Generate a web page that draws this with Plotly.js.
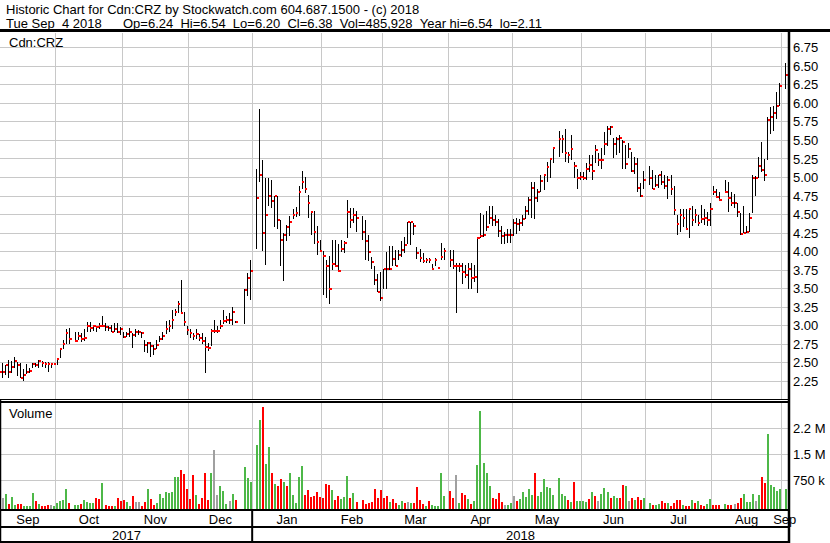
<!DOCTYPE html>
<html>
<head>
<meta charset="utf-8">
<script src="https://cdn.plot.ly/plotly-3.0.1.min.js"></script>
<style>
html,body{margin:0;padding:0;background:#fff;}
#chart{width:830px;height:543px;}
.scatterlayer .js-line{shape-rendering:crispEdges;}
.barlayer path{shape-rendering:crispEdges;}
</style>
</head>
<body>
<div id="chart"></div>
<script>
// ---------------- data ----------------
const FIRST_DAY = '2017-09-05';
const LAST_DAY = '2018-09-04';
const HOLIDAYS = ['2017-10-09','2017-12-25','2017-12-26','2018-01-01','2018-02-19',
                  '2018-03-30','2018-05-21','2018-07-02','2018-08-06','2018-09-03'];
const MONTH_NAMES = ['Jan','Feb','Mar','Apr','May','Jun','Jul','Aug','Sep','Oct','Nov','Dec'];

const high = [
 2.49,
 2.50,2.47,2.54,2.53,2.58,2.51,2.50,2.41,2.49,2.43,2.50,2.50,2.54,2.52,2.51,2.51,2.50,2.50,
 2.56,2.69,2.81,2.96,2.97,2.92,2.92,2.90,2.96,3.05,3.05,3.01,3.00,3.04,3.13,3.04,3.00,3.01,3.04,3.04,2.98,
 2.92,2.92,2.97,2.90,2.95,2.94,2.92,2.81,2.78,2.78,2.74,2.81,2.86,2.91,3.06,3.08,3.21,3.23,3.33,3.62,3.19,2.99,
 2.95,2.90,2.96,2.89,2.90,2.85,2.77,2.96,3.08,2.99,3.08,3.21,3.13,3.17,3.25,3.06,3.49,3.71,3.89,
 5.11,5.93,5.24,5.00,5.00,4.97,4.75,4.75,4.43,4.25,4.36,4.48,4.57,4.60,4.89,5.09,5.01,4.77,4.55,4.55,4.34,4.16,
 4.01,3.89,3.94,4.16,4.16,4.10,4.16,4.15,4.70,4.59,4.59,4.55,4.48,4.43,4.23,3.93,3.80,3.70,3.73,
 3.77,4.00,4.08,4.08,4.02,4.02,4.15,4.20,4.40,4.40,4.39,4.06,4.03,3.98,3.91,3.91,3.83,3.91,3.78,4.12,4.05,
 4.02,4.02,3.84,3.84,3.85,3.82,3.84,3.84,3.82,4.20,4.52,4.49,4.55,4.61,4.61,4.50,4.44,4.35,4.26,4.30,4.30,
 4.44,4.46,4.44,4.50,4.62,4.74,4.94,4.94,4.85,5.03,5.05,5.21,5.25,5.40,5.63,5.57,5.65,5.35,5.57,5.21,5.12,5.08,
 5.08,5.19,5.30,5.30,5.44,5.33,5.40,5.61,5.69,5.69,5.53,5.55,5.58,5.51,5.44,5.46,5.35,5.28,5.26,4.93,5.09,
 5.16,5.10,5.04,5.04,5.09,5.04,5.02,5.03,4.88,4.50,4.57,4.57,4.57,4.58,4.61,4.57,4.49,4.63,4.57,4.54,4.66,
 4.89,4.84,4.81,4.96,4.94,4.81,4.78,4.66,4.52,4.61,4.34,4.52,5.03,5.02,5.28,5.48,5.25,5.81,5.95,5.97,6.15,6.27,
 6.54];

const low = [
 2.11,
 2.29,2.34,2.30,2.36,2.43,2.32,2.29,2.25,2.35,2.36,2.43,2.44,2.43,2.45,2.43,2.38,2.43,2.47,
 2.47,2.56,2.69,2.75,2.75,2.78,2.81,2.78,2.80,2.91,2.92,2.93,2.91,2.95,2.98,2.93,2.93,2.91,2.91,2.90,2.88,
 2.84,2.85,2.85,2.70,2.85,2.87,2.83,2.65,2.63,2.58,2.61,2.68,2.78,2.81,2.89,2.91,2.96,3.13,3.17,3.17,2.99,2.88,
 2.83,2.81,2.82,2.80,2.76,2.36,2.66,2.72,2.90,2.90,2.95,3.02,3.04,3.02,3.01,3.04,3.03,3.40,3.35,
 4.03,4.94,4.01,3.82,4.61,4.59,4.33,4.30,3.80,3.60,4.14,4.21,4.44,4.47,4.48,4.84,4.79,4.45,4.23,4.10,3.96,4.00,
 3.42,3.38,3.30,3.75,3.79,3.72,4.00,3.98,4.18,4.32,4.39,4.27,4.16,3.89,3.88,3.77,3.55,3.45,3.34,
 3.50,3.50,3.75,3.80,3.80,3.89,3.93,3.98,4.10,4.09,4.23,3.90,3.86,3.84,3.84,3.84,3.76,3.80,3.78,3.89,3.89,
 3.79,3.76,3.17,3.73,3.57,3.64,3.50,3.50,3.59,3.44,4.18,4.20,4.28,4.37,4.35,4.35,4.20,4.10,4.10,4.12,4.12,
 4.21,4.24,4.28,4.35,4.44,4.49,4.46,4.44,4.67,4.80,4.83,4.94,4.99,5.20,5.28,5.33,5.21,5.19,5.24,4.99,4.85,4.96,
 4.96,4.96,5.08,4.96,5.19,5.15,5.12,5.30,5.42,5.58,5.26,5.30,5.33,5.12,5.12,5.26,5.08,5.05,4.80,4.74,4.84,
 4.90,4.84,4.87,4.86,4.90,4.85,4.71,4.76,4.49,4.22,4.26,4.33,4.31,4.19,4.34,4.38,4.35,4.38,4.36,4.34,4.34,
 4.76,4.74,4.69,4.79,4.54,4.61,4.59,4.47,4.23,4.25,4.25,4.27,4.52,4.75,5.00,5.08,4.95,5.23,5.59,5.63,5.79,5.96,
 6.20];

const close = [
 2.37,
 2.37,2.47,2.38,2.45,2.53,2.47,2.30,2.34,2.38,2.39,2.49,2.47,2.52,2.50,2.49,2.48,2.48,2.49,
 2.55,2.69,2.75,2.90,2.82,2.80,2.86,2.82,2.83,3.00,2.97,3.00,2.98,3.00,3.00,2.98,2.97,2.92,2.95,2.91,2.96,
 2.85,2.89,2.91,2.87,2.92,2.92,2.90,2.74,2.77,2.73,2.69,2.74,2.82,2.86,2.95,3.00,3.08,3.19,3.30,3.17,3.05,2.94,
 2.90,2.86,2.89,2.84,2.79,2.71,2.70,2.93,2.93,2.93,2.99,3.06,3.08,3.08,3.18,3.05,3.48,3.64,3.74,
 4.72,5.04,4.25,4.49,4.75,4.68,4.75,4.43,4.16,4.23,4.33,4.40,4.49,4.52,4.80,4.94,4.84,4.65,4.54,4.26,4.13,4.01,
 3.94,3.81,3.49,3.83,3.80,3.74,4.04,4.11,4.53,4.43,4.49,4.46,4.27,4.15,3.99,3.86,3.62,3.45,3.37,
 3.76,3.76,3.76,3.90,3.80,3.96,4.02,4.09,4.40,4.40,4.34,3.98,3.92,3.88,3.89,3.89,3.77,3.89,3.78,3.93,4.01,
 3.89,3.80,3.80,3.80,3.73,3.68,3.77,3.65,3.66,4.19,4.21,4.22,4.33,4.45,4.43,4.40,4.28,4.21,4.22,4.22,4.23,
 4.38,4.37,4.39,4.44,4.55,4.70,4.86,4.72,4.81,4.95,5.03,5.14,5.25,5.40,5.52,5.52,5.33,5.30,5.38,5.16,4.99,5.01,
 5.00,5.12,5.17,5.09,5.37,5.24,5.24,5.45,5.65,5.68,5.45,5.52,5.53,5.48,5.18,5.39,5.09,5.18,4.86,4.75,4.96,
 4.99,4.84,4.90,5.03,4.94,4.88,4.96,4.85,4.56,4.37,4.49,4.46,4.31,4.57,4.43,4.49,4.39,4.44,4.45,4.43,4.58,
 4.80,4.74,4.69,4.81,4.72,4.65,4.65,4.53,4.24,4.25,4.27,4.46,5.00,5.00,5.16,5.10,5.03,5.78,5.82,5.87,5.97,6.24,
 6.38];

// volume in thousands of shares
const volume = [
 240,
 240,346,58,260,29,58,58,8,8,10,375,144,58,10,8,29,29,10,
 87,144,173,490,87,29,29,58,173,115,87,87,231,202,663,29,8,8,10,231,144,
 173,115,8,288,115,115,8,115,490,202,29,87,346,231,404,375,404,836,836,1038,923,490,
 202,894,317,58,231,952,173,952,1615,317,577,433,58,144,346,173,1125,808,692,
 1760,2481,2865,1212,1702,952,635,577,779,692,577,952,317,87,836,1154,317,462,260,288,404,260,
 231,635,606,462,173,288,202,260,865,231,375,115,173,58,87,115,490,231,462,
 231,288,115,202,87,29,144,87,115,87,87,548,173,58,8,144,29,10,8,952,288,
 442,231,894,87,375,317,202,58,144,1183,2740,1250,952,577,231,202,375,115,29,29,87,
 288,144,202,404,260,490,317,952,288,404,779,548,519,317,808,346,288,173,115,692,144,144,
 144,115,202,404,288,144,346,519,404,231,288,231,231,606,577,144,231,173,260,173,231,
 87,29,29,58,144,87,87,8,87,173,173,29,5,10,173,87,144,29,10,58,202,
 29,29,29,58,29,29,58,87,231,346,115,115,346,144,317,836,663,2077,606,548,433,490,
 486];

// day direction: g = up, r = down, n = unchanged
const direction = (
 'n' +
 'ngrggrrggggrgrrrng' + 'ggggrggrggggrrgrrrgrr' + 'rggrnnrrgrrggggggggrrr' +
 'rrgrrrrgnngggngrggg' + 'ggrggrgrrgrgggggrrrrrr' + 'rrrgrrgggrgrrrrrrrr' +
 'rrgrrggrngrrrrgrggggg' + 'rrngrrgrggggggrrrrngg' + 'nrgggggrgggggggggrgrgg' +
 'ggrgrngggrggrrgnrgrrg' + 'grggrrgrrrrgrrgrgrrgg' + 'rrrgrrnrrggggngrrggggg' + 'g'
).split('');

const PRICE_TICKS = [2.25,2.50,2.75,3.00,3.25,3.50,3.75,4.00,4.25,4.50,4.75,5.00,5.25,5.50,5.75,6.00,6.25,6.50,6.75];
const VOLUME_TICKS = [750,1500,2250];
const VOLUME_TICK_TEXT = ['750 k','1.5 M','2.2 M'];
const HEADER_1 = 'Historic Chart for Cdn:CRZ by Stockwatch.com 604.687.1500 - (c) 2018';
const HEADER_2A = 'Tue Sep  4 2018';
const HEADER_2B = 'Op=6.24  Hi=6.54  Lo=6.20  Cl=6.38  Vol=485,928  Year hi=6.54  lo=2.11';
const SYMBOL = 'Cdn:CRZ';
const VOLUME_LABEL = 'Volume';

// ---------------- layout geometry ----------------
const W = 830, H = 543;
const M = {l: 0, r: 42, t: 33, b: 33};
const PW = W - M.l - M.r, PH = H - M.t - M.b;
const px = v => (v - M.l) / PW;          // page x -> paper
const py = v => (H - M.b - v) / PH;      // page y -> paper
const FONT = 'Liberation Sans, Arial, sans-serif';
const GRID = '#c8c8c8';

// weekday slots (one slot per weekday, holidays left empty)
const slotDates = [];
for (let t = Date.parse(FIRST_DAY + 'T00:00:00Z'); t <= Date.parse(LAST_DAY + 'T00:00:00Z'); t += 86400000) {
  const d = new Date(t), wd = d.getUTCDay();
  if (wd > 0 && wd < 6) slotDates.push(d);
}
const tradeSlots = [];
slotDates.forEach((d, i) => { if (!HOLIDAYS.includes(d.toISOString().slice(0, 10))) tradeSlots.push(i); });

const SLOT_PX = 3.024, SECOND_SLOT_PX = 2.7;   // slot 1 (Sep 6) sits 2.7 px from the left edge
const xMin = 1 - SECOND_SLOT_PX / SLOT_PX;
const xMax = xMin + PW / SLOT_PX;

// month boundaries & centres
const bounds = [], months = [{m: slotDates[0].getUTCMonth(), y: slotDates[0].getUTCFullYear()}];
for (let i = 1; i < slotDates.length; i++) {
  if (slotDates[i].getUTCMonth() !== slotDates[i - 1].getUTCMonth()) {
    bounds.push(i - 0.5);
    months.push({m: slotDates[i].getUTCMonth(), y: slotDates[i].getUTCFullYear()});
  }
}
const monthCentres = months.map((mo, k) => {
  const a = k === 0 ? xMin : bounds[k - 1];
  const b = k === months.length - 1 ? xMax : bounds[k];
  return (a + b) / 2;
});
const monthText = months.map(mo => MONTH_NAMES[mo.m]);
const yearBounds = [], years = [months[0].y];
months.forEach((mo, k) => { if (k > 0 && mo.y !== months[k - 1].y) { yearBounds.push(bounds[k - 1]); years.push(mo.y); } });
const yearEdges = [xMin, ...yearBounds, xMax];

// ---------------- traces ----------------
const hlX = [], hlY = [], cX = [], cY = [];
tradeSlots.forEach((s, i) => {
  hlX.push(s, s, null); hlY.push(low[i], high[i], null);
  cX.push(s, s + 0.75, null); cY.push(close[i], close[i], null);
});
const COLORS = {g: '#4db848', r: '#ff0000', n: '#a0a0a0'};
const VOL_MIN = -115, VOL_MAX = 2971;

const traces = [
  {type: 'scatter', mode: 'lines', x: hlX, y: hlY, xaxis: 'x', yaxis: 'y',
   line: {color: '#000', width: 1}, hoverinfo: 'skip', connectgaps: false},
  {type: 'scatter', mode: 'lines', x: cX, y: cY, xaxis: 'x', yaxis: 'y',
   line: {color: '#ff0000', width: 2}, hoverinfo: 'skip', connectgaps: false},
  {type: 'bar', x: tradeSlots, y: volume.map(v => v - VOL_MIN), base: VOL_MIN,
   xaxis: 'x', yaxis: 'y2', width: 0.66,
   marker: {color: direction.map(d => COLORS[d]), line: {width: 0}}, hoverinfo: 'skip'}
];

// ---------------- shapes ----------------
const line = (x0, y0, x1, y1, w) => ({type: 'line', xref: 'paper', yref: 'paper',
  x0: px(x0), y0: py(y0), x1: px(x1), y1: py(y1), line: {color: '#000', width: w}});
const shapes = [
  line(0, 30.5, 830, 30.5, 3),      // under header
  line(0, 399.5, 789, 399.5, 1),    // price / volume separator
  line(0, 402, 789, 402, 2),
  line(0, 510, 789, 510, 2),        // bottom of volume panel
  line(0, 527, 789, 527, 2),        // below month row
  line(0, 542, 789, 542, 2),        // bottom
  line(0.5, 399, 0.5, 543, 1.5),    // left edge of lower panels
  line(789, 30, 789, 543, 2.5)      // right edge of chart
];
yearBounds.forEach(b => {
  const xp = (b - xMin) / (xMax - xMin);
  shapes.push({type: 'line', xref: 'paper', yref: 'paper', x0: xp, x1: xp, y0: py(510), y1: py(542),
               line: {color: '#000', width: 2}});
});

// ---------------- annotations ----------------
const nb = s => s.replace(/ /g, '\u00a0');
const ann = (text, x, y, anchor) => ({text: nb(text), xref: 'paper', yref: 'paper', x: px(x), y: py(y),
  xanchor: anchor || 'left', yanchor: 'middle', showarrow: false,
  font: {family: FONT, size: 13, color: '#000'}, borderpad: 0});
const annotations = [
  ann(HEADER_1, 5, 10),
  ann(HEADER_2A, 5, 23),
  ann(HEADER_2B, 122, 23),
  ann(SYMBOL, 8, 42),
  ann(VOLUME_LABEL, 8, 413)
];
years.forEach((yr, k) => {
  annotations.push({text: String(yr), xref: 'x', yref: 'paper',
    x: (yearEdges[k] + yearEdges[k + 1]) / 2, y: py(535), xanchor: 'center', yanchor: 'middle',
    showarrow: false, font: {family: FONT, size: 13, color: '#000'}});
});

const tickfont = {family: FONT, size: 13, color: '#000'};
const layout = {
  width: W, height: H, margin: M, paper_bgcolor: '#fff', plot_bgcolor: '#fff',
  showlegend: false, bargap: 0, hovermode: false,
  xaxis: {domain: [0, 1], anchor: 'y2', range: [xMin, xMax], tickmode: 'array',
    tickvals: monthCentres, ticktext: monthText, showgrid: false, zeroline: false, showline: false,
    ticks: '', tickfont: tickfont, fixedrange: true,
    minor: {tickmode: 'array', tickvals: bounds, showgrid: true, gridcolor: GRID, gridwidth: 1, ticks: ''}},
  yaxis: {domain: [py(400), 1], range: [1.998, 6.950], side: 'right', anchor: 'x',
    tickmode: 'array', tickvals: PRICE_TICKS, ticktext: PRICE_TICKS.map(v => v.toFixed(2)),
    showgrid: true, gridcolor: GRID, gridwidth: 1, zeroline: false, showline: false, ticks: '',
    tickfont: tickfont, ticklabelstandoff: 4, fixedrange: true},
  yaxis2: {domain: [0, py(403)], range: [VOL_MIN, VOL_MAX], side: 'right', anchor: 'x',
    tickmode: 'array', tickvals: VOLUME_TICKS, ticktext: VOLUME_TICK_TEXT,
    showgrid: true, gridcolor: GRID, gridwidth: 1, zeroline: false, showline: false, ticks: '',
    tickfont: tickfont, ticklabelstandoff: 4, fixedrange: true},
  shapes: shapes,
  annotations: annotations
};

Plotly.newPlot('chart', traces, layout, {displayModeBar: false, staticPlot: true});
</script>
</body>
</html>
